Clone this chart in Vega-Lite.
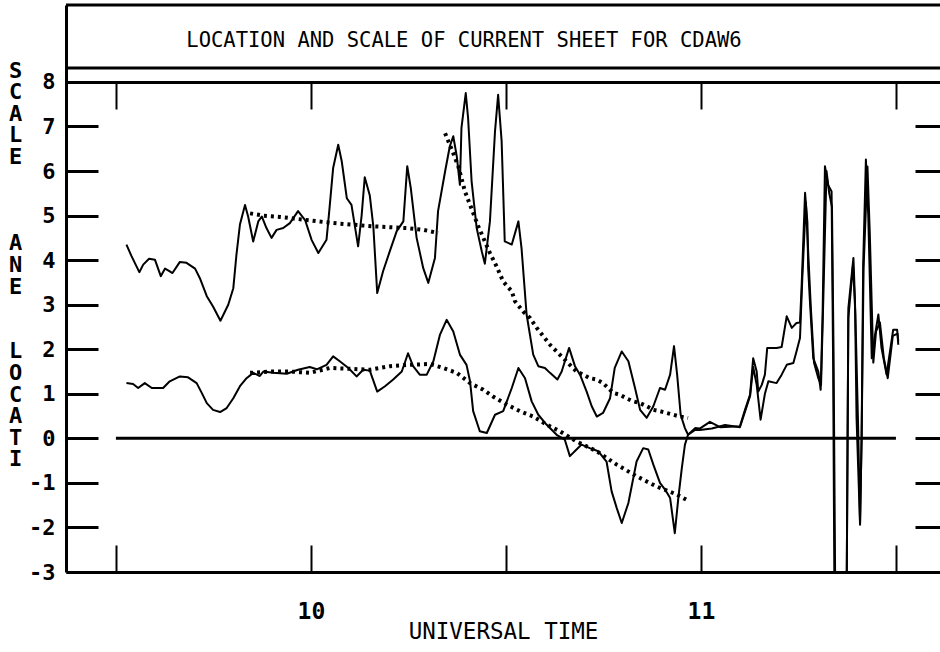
{
  "$schema": "https://vega.github.io/schema/vega-lite/v6.json",
  "width": 874,
  "height": 567,
  "autosize": {"type": "none"},
  "padding": {"left": 66, "top": 5, "right": 0, "bottom": 80},
  "background": "white",
  "config": {"view": {"stroke": null}, "font": "DejaVu Sans Mono"},
  "title": {
    "text": "LOCATION AND SCALE OF CURRENT SHEET FOR CDAW6",
    "orient": "top",
    "anchor": "middle",
    "frame": "group",
    "offset": -48,
    "dx": -39,
    "font": "DejaVu Sans Mono",
    "fontSize": 20.5,
    "fontWeight": "normal",
    "color": "black"
  },
  "datasets": {
    "traces": [
      {"s":"scale","t":9.527,"v":4.35},{"s":"scale","t":9.540,"v":4.09},{"s":"scale","t":9.560,"v":3.73},{"s":"scale","t":9.570,"v":3.90},
      {"s":"scale","t":9.585,"v":4.03},{"s":"scale","t":9.600,"v":4.01},{"s":"scale","t":9.615,"v":3.64},{"s":"scale","t":9.626,"v":3.81},
      {"s":"scale","t":9.636,"v":3.76},{"s":"scale","t":9.645,"v":3.71},{"s":"scale","t":9.664,"v":3.96},{"s":"scale","t":9.681,"v":3.94},
      {"s":"scale","t":9.703,"v":3.81},{"s":"scale","t":9.715,"v":3.60},{"s":"scale","t":9.733,"v":3.19},{"s":"scale","t":9.749,"v":2.96},
      {"s":"scale","t":9.768,"v":2.64},{"s":"scale","t":9.788,"v":3.00},{"s":"scale","t":9.801,"v":3.37},{"s":"scale","t":9.809,"v":4.12},
      {"s":"scale","t":9.818,"v":4.80},{"s":"scale","t":9.831,"v":5.24},{"s":"scale","t":9.839,"v":4.98},{"s":"scale","t":9.852,"v":4.42},
      {"s":"scale","t":9.865,"v":4.87},{"s":"scale","t":9.874,"v":4.98},{"s":"scale","t":9.886,"v":4.72},{"s":"scale","t":9.899,"v":4.50},
      {"s":"scale","t":9.912,"v":4.68},{"s":"scale","t":9.929,"v":4.72},{"s":"scale","t":9.946,"v":4.83},{"s":"scale","t":9.967,"v":5.10},
      {"s":"scale","t":9.985,"v":4.90},{"s":"scale","t":10.002,"v":4.45},{"s":"scale","t":10.019,"v":4.16},{"s":"scale","t":10.040,"v":4.46},
      {"s":"scale","t":10.047,"v":5.10},{"s":"scale","t":10.057,"v":6.07},{"s":"scale","t":10.070,"v":6.59},{"s":"scale","t":10.079,"v":6.22},
      {"s":"scale","t":10.092,"v":5.39},{"s":"scale","t":10.104,"v":5.24},{"s":"scale","t":10.121,"v":4.31},{"s":"scale","t":10.130,"v":5.00},
      {"s":"scale","t":10.138,"v":5.86},{"s":"scale","t":10.151,"v":5.45},{"s":"scale","t":10.160,"v":4.76},{"s":"scale","t":10.170,"v":3.26},
      {"s":"scale","t":10.185,"v":3.75},{"s":"scale","t":10.203,"v":4.22},{"s":"scale","t":10.220,"v":4.65},{"s":"scale","t":10.237,"v":4.87},
      {"s":"scale","t":10.247,"v":6.11},{"s":"scale","t":10.256,"v":5.62},{"s":"scale","t":10.271,"v":4.50},{"s":"scale","t":10.288,"v":3.82},
      {"s":"scale","t":10.301,"v":3.49},{"s":"scale","t":10.318,"v":4.05},{"s":"scale","t":10.326,"v":5.10},{"s":"scale","t":10.344,"v":5.99},
      {"s":"scale","t":10.356,"v":6.55},{"s":"scale","t":10.365,"v":6.78},{"s":"scale","t":10.374,"v":6.33},{"s":"scale","t":10.382,"v":5.69},
      {"s":"scale","t":10.386,"v":6.97},{"s":"scale","t":10.397,"v":7.75},{"s":"scale","t":10.403,"v":7.19},{"s":"scale","t":10.412,"v":5.77},
      {"s":"scale","t":10.425,"v":4.72},{"s":"scale","t":10.438,"v":4.20},{"s":"scale","t":10.446,"v":3.92},{"s":"scale","t":10.459,"v":4.87},
      {"s":"scale","t":10.472,"v":6.89},{"s":"scale","t":10.480,"v":7.71},{"s":"scale","t":10.489,"v":6.67},{"s":"scale","t":10.497,"v":4.42},
      {"s":"scale","t":10.515,"v":4.35},{"s":"scale","t":10.532,"v":4.87},{"s":"scale","t":10.540,"v":4.27},{"s":"scale","t":10.553,"v":2.78},
      {"s":"scale","t":10.570,"v":1.88},{"s":"scale","t":10.583,"v":1.62},{"s":"scale","t":10.600,"v":1.58},{"s":"scale","t":10.613,"v":1.47},
      {"s":"scale","t":10.632,"v":1.32},{"s":"scale","t":10.643,"v":1.50},{"s":"scale","t":10.662,"v":2.03},{"s":"scale","t":10.677,"v":1.62},
      {"s":"scale","t":10.690,"v":1.43},{"s":"scale","t":10.707,"v":1.05},{"s":"scale","t":10.720,"v":0.72},{"s":"scale","t":10.733,"v":0.49},
      {"s":"scale","t":10.749,"v":0.57},{"s":"scale","t":10.767,"v":0.90},{"s":"scale","t":10.779,"v":1.58},{"s":"scale","t":10.797,"v":1.95},
      {"s":"scale","t":10.814,"v":1.73},{"s":"scale","t":10.831,"v":1.13},{"s":"scale","t":10.844,"v":0.64},{"s":"scale","t":10.861,"v":0.46},
      {"s":"scale","t":10.878,"v":0.72},{"s":"scale","t":10.895,"v":1.13},{"s":"scale","t":10.908,"v":1.09},{"s":"scale","t":10.921,"v":1.43},
      {"s":"scale","t":10.931,"v":2.07},{"s":"scale","t":10.939,"v":1.43},{"s":"scale","t":10.948,"v":0.53},{"s":"scale","t":10.959,"v":0.23},
      {"s":"scale","t":10.967,"v":0.08},{"s":"scale","t":10.985,"v":0.23},{"s":"scale","t":10.997,"v":0.22},{"s":"scale","t":11.023,"v":0.37},
      {"s":"scale","t":11.049,"v":0.25},{"s":"scale","t":11.100,"v":0.27},{"s":"scale","t":11.113,"v":0.64},{"s":"scale","t":11.126,"v":0.98},
      {"s":"scale","t":11.134,"v":1.80},{"s":"scale","t":11.143,"v":1.50},{"s":"scale","t":11.147,"v":1.05},{"s":"scale","t":11.156,"v":1.20},
      {"s":"scale","t":11.164,"v":1.43},{"s":"scale","t":11.170,"v":2.03},{"s":"scale","t":11.194,"v":2.03},{"s":"scale","t":11.207,"v":2.05},
      {"s":"scale","t":11.220,"v":2.74},{"s":"scale","t":11.233,"v":2.48},{"s":"scale","t":11.245,"v":2.59},{"s":"scale","t":11.254,"v":2.60},
      {"s":"scale","t":11.258,"v":3.37},{"s":"scale","t":11.267,"v":5.51},{"s":"scale","t":11.273,"v":4.85},{"s":"scale","t":11.275,"v":3.82},
      {"s":"scale","t":11.279,"v":3.15},{"s":"scale","t":11.288,"v":1.80},{"s":"scale","t":11.301,"v":1.50},{"s":"scale","t":11.307,"v":1.09},
      {"s":"scale","t":11.312,"v":2.78},{"s":"scale","t":11.318,"v":6.11},{"s":"scale","t":11.326,"v":5.69},{"s":"scale","t":11.335,"v":5.54},
      {"s":"scale","t":11.339,"v":1.65},{"s":"scale","t":11.342,"v":-3.0},{"s":"scale","t":11.374,"v":-3.0},{"s":"scale","t":11.378,"v":2.92},
      {"s":"scale","t":11.391,"v":4.05},{"s":"scale","t":11.395,"v":3.10},{"s":"scale","t":11.399,"v":0.46},{"s":"scale","t":11.408,"v":-1.94},
      {"s":"scale","t":11.412,"v":0.00},{"s":"scale","t":11.416,"v":3.90},{"s":"scale","t":11.423,"v":6.26},{"s":"scale","t":11.429,"v":5.02},
      {"s":"scale","t":11.438,"v":1.80},{"s":"scale","t":11.446,"v":2.30},{"s":"scale","t":11.455,"v":2.78},{"s":"scale","t":11.463,"v":2.03},
      {"s":"scale","t":11.476,"v":1.43},{"s":"scale","t":11.493,"v":2.44},{"s":"scale","t":11.503,"v":2.44},{"s":"scale","t":11.506,"v":2.18},

      {"s":"location","t":9.527,"v":1.24},{"s":"location","t":9.544,"v":1.22},{"s":"location","t":9.557,"v":1.13},{"s":"location","t":9.574,"v":1.24},
      {"s":"location","t":9.592,"v":1.13},{"s":"location","t":9.621,"v":1.13},{"s":"location","t":9.638,"v":1.28},{"s":"location","t":9.664,"v":1.39},
      {"s":"location","t":9.685,"v":1.37},{"s":"location","t":9.707,"v":1.24},{"s":"location","t":9.720,"v":1.02},{"s":"location","t":9.733,"v":0.79},
      {"s":"location","t":9.749,"v":0.64},{"s":"location","t":9.767,"v":0.59},{"s":"location","t":9.784,"v":0.68},{"s":"location","t":9.801,"v":0.90},
      {"s":"location","t":9.818,"v":1.17},{"s":"location","t":9.835,"v":1.35},{"s":"location","t":9.852,"v":1.47},{"s":"location","t":9.869,"v":1.40},
      {"s":"location","t":9.878,"v":1.50},{"s":"location","t":9.903,"v":1.47},{"s":"location","t":9.938,"v":1.45},{"s":"location","t":9.967,"v":1.54},
      {"s":"location","t":9.997,"v":1.60},{"s":"location","t":10.015,"v":1.55},{"s":"location","t":10.040,"v":1.65},{"s":"location","t":10.057,"v":1.84},
      {"s":"location","t":10.074,"v":1.73},{"s":"location","t":10.096,"v":1.58},{"s":"location","t":10.117,"v":1.39},{"s":"location","t":10.134,"v":1.54},
      {"s":"location","t":10.151,"v":1.52},{"s":"location","t":10.170,"v":1.05},{"s":"location","t":10.190,"v":1.17},{"s":"location","t":10.211,"v":1.32},
      {"s":"location","t":10.233,"v":1.50},{"s":"location","t":10.249,"v":1.91},{"s":"location","t":10.262,"v":1.62},{"s":"location","t":10.279,"v":1.43},
      {"s":"location","t":10.297,"v":1.43},{"s":"location","t":10.314,"v":1.73},{"s":"location","t":10.331,"v":2.33},{"s":"location","t":10.348,"v":2.66},
      {"s":"location","t":10.365,"v":2.40},{"s":"location","t":10.382,"v":1.88},{"s":"location","t":10.399,"v":1.65},{"s":"location","t":10.408,"v":1.28},
      {"s":"location","t":10.416,"v":0.61},{"s":"location","t":10.433,"v":0.16},{"s":"location","t":10.451,"v":0.12},{"s":"location","t":10.472,"v":0.53},
      {"s":"location","t":10.493,"v":0.61},{"s":"location","t":10.515,"v":1.13},{"s":"location","t":10.532,"v":1.58},{"s":"location","t":10.549,"v":1.35},
      {"s":"location","t":10.566,"v":0.83},{"s":"location","t":10.583,"v":0.53},{"s":"location","t":10.604,"v":0.31},{"s":"location","t":10.630,"v":0.08},
      {"s":"location","t":10.651,"v":-0.03},{"s":"location","t":10.664,"v":-0.40},{"s":"location","t":10.681,"v":-0.25},{"s":"location","t":10.694,"v":-0.14},
      {"s":"location","t":10.715,"v":-0.22},{"s":"location","t":10.737,"v":-0.29},{"s":"location","t":10.758,"v":-0.52},{"s":"location","t":10.771,"v":-1.19},
      {"s":"location","t":10.784,"v":-1.56},{"s":"location","t":10.797,"v":-1.90},{"s":"location","t":10.814,"v":-1.45},{"s":"location","t":10.835,"v":-0.52},
      {"s":"location","t":10.852,"v":-0.22},{"s":"location","t":10.865,"v":-0.25},{"s":"location","t":10.878,"v":-0.59},{"s":"location","t":10.895,"v":-1.00},
      {"s":"location","t":10.908,"v":-1.15},{"s":"location","t":10.921,"v":-1.34},{"s":"location","t":10.933,"v":-2.13},{"s":"location","t":10.942,"v":-1.34},
      {"s":"location","t":10.951,"v":-0.67},{"s":"location","t":10.959,"v":-0.14},{"s":"location","t":10.967,"v":0.08},{"s":"location","t":10.985,"v":0.19},
      {"s":"location","t":10.997,"v":0.19},{"s":"location","t":11.028,"v":0.22},{"s":"location","t":11.062,"v":0.30},{"s":"location","t":11.100,"v":0.25},
      {"s":"location","t":11.113,"v":0.60},{"s":"location","t":11.126,"v":0.95},{"s":"location","t":11.134,"v":1.60},{"s":"location","t":11.143,"v":1.20},
      {"s":"location","t":11.153,"v":0.42},{"s":"location","t":11.164,"v":1.00},{"s":"location","t":11.173,"v":1.28},{"s":"location","t":11.194,"v":1.24},
      {"s":"location","t":11.207,"v":1.43},{"s":"location","t":11.220,"v":1.65},{"s":"location","t":11.237,"v":1.69},{"s":"location","t":11.245,"v":1.95},
      {"s":"location","t":11.254,"v":2.25},{"s":"location","t":11.260,"v":3.60},{"s":"location","t":11.269,"v":5.30},{"s":"location","t":11.276,"v":4.00},
      {"s":"location","t":11.282,"v":2.90},{"s":"location","t":11.290,"v":1.70},{"s":"location","t":11.301,"v":1.35},{"s":"location","t":11.308,"v":1.20},
      {"s":"location","t":11.314,"v":3.20},{"s":"location","t":11.322,"v":6.00},{"s":"location","t":11.329,"v":5.50},{"s":"location","t":11.336,"v":5.20},
      {"s":"location","t":11.340,"v":2.00},{"s":"location","t":11.344,"v":-3.0},{"s":"location","t":11.374,"v":-3.0},{"s":"location","t":11.378,"v":2.70},
      {"s":"location","t":11.390,"v":3.90},{"s":"location","t":11.396,"v":2.80},{"s":"location","t":11.403,"v":0.30},{"s":"location","t":11.408,"v":-1.90},
      {"s":"location","t":11.412,"v":0.00},{"s":"location","t":11.417,"v":3.80},{"s":"location","t":11.427,"v":6.10},{"s":"location","t":11.433,"v":4.60},
      {"s":"location","t":11.442,"v":1.70},{"s":"location","t":11.449,"v":2.40},{"s":"location","t":11.459,"v":2.60},{"s":"location","t":11.469,"v":1.80},
      {"s":"location","t":11.479,"v":1.35},{"s":"location","t":11.492,"v":2.30},{"s":"location","t":11.504,"v":2.35},{"s":"location","t":11.506,"v":2.10}
    ],
    "fits": [
      {"seg":"scale1","t":9.844,"v":5.05},{"seg":"scale1","t":9.877,"v":5.00},{"seg":"scale1","t":9.921,"v":4.97},{"seg":"scale1","t":9.979,"v":4.91},
      {"seg":"scale1","t":10.049,"v":4.84},{"seg":"scale1","t":10.100,"v":4.80},{"seg":"scale1","t":10.159,"v":4.76},{"seg":"scale1","t":10.245,"v":4.72},
      {"seg":"scale1","t":10.288,"v":4.68},{"seg":"scale1","t":10.326,"v":4.61},
      {"seg":"scale2","t":10.344,"v":6.85},{"seg":"scale2","t":10.365,"v":6.40},{"seg":"scale2","t":10.378,"v":6.10},{"seg":"scale2","t":10.395,"v":5.54},
      {"seg":"scale2","t":10.412,"v":5.15},{"seg":"scale2","t":10.429,"v":4.76},{"seg":"scale2","t":10.446,"v":4.42},{"seg":"scale2","t":10.459,"v":4.16},
      {"seg":"scale2","t":10.476,"v":3.86},{"seg":"scale2","t":10.493,"v":3.52},{"seg":"scale2","t":10.515,"v":3.30},{"seg":"scale2","t":10.523,"v":3.08},
      {"seg":"scale2","t":10.544,"v":2.85},{"seg":"scale2","t":10.562,"v":2.70},{"seg":"scale2","t":10.579,"v":2.48},{"seg":"scale2","t":10.596,"v":2.29},
      {"seg":"scale2","t":10.613,"v":2.10},{"seg":"scale2","t":10.630,"v":1.95},{"seg":"scale2","t":10.647,"v":1.80},{"seg":"scale2","t":10.664,"v":1.65},
      {"seg":"scale2","t":10.681,"v":1.50},{"seg":"scale2","t":10.698,"v":1.43},{"seg":"scale2","t":10.715,"v":1.35},{"seg":"scale2","t":10.733,"v":1.32},
      {"seg":"scale2","t":10.749,"v":1.24},{"seg":"scale2","t":10.775,"v":1.02},{"seg":"scale2","t":10.792,"v":0.98},{"seg":"scale2","t":10.809,"v":0.90},
      {"seg":"scale2","t":10.826,"v":0.83},{"seg":"scale2","t":10.844,"v":0.79},{"seg":"scale2","t":10.861,"v":0.72},{"seg":"scale2","t":10.878,"v":0.64},
      {"seg":"scale2","t":10.895,"v":0.61},{"seg":"scale2","t":10.912,"v":0.57},{"seg":"scale2","t":10.929,"v":0.53},{"seg":"scale2","t":10.946,"v":0.49},
      {"seg":"scale2","t":10.967,"v":0.46},
      {"seg":"loc","t":9.844,"v":1.47},{"seg":"loc","t":9.895,"v":1.50},{"seg":"loc","t":9.946,"v":1.50},{"seg":"loc","t":9.997,"v":1.47},
      {"seg":"loc","t":10.049,"v":1.58},{"seg":"loc","t":10.100,"v":1.56},{"seg":"loc","t":10.151,"v":1.54},{"seg":"loc","t":10.203,"v":1.62},
      {"seg":"loc","t":10.254,"v":1.65},{"seg":"loc","t":10.305,"v":1.67},{"seg":"loc","t":10.339,"v":1.58},{"seg":"loc","t":10.374,"v":1.47},
      {"seg":"loc","t":10.408,"v":1.24},{"seg":"loc","t":10.442,"v":1.09},{"seg":"loc","t":10.467,"v":0.94},{"seg":"loc","t":10.502,"v":0.76},
      {"seg":"loc","t":10.536,"v":0.61},{"seg":"loc","t":10.570,"v":0.49},{"seg":"loc","t":10.604,"v":0.31},{"seg":"loc","t":10.638,"v":0.16},
      {"seg":"loc","t":10.681,"v":-0.07},{"seg":"loc","t":10.733,"v":-0.29},{"seg":"loc","t":10.784,"v":-0.59},{"seg":"loc","t":10.835,"v":-0.85},
      {"seg":"loc","t":10.886,"v":-1.08},{"seg":"loc","t":10.938,"v":-1.26},{"seg":"loc","t":10.963,"v":-1.38}
    ]
  },
  "layer": [
    {
      "data": {"name": "traces"},
      "mark": {"type": "line", "stroke": "black", "strokeWidth": 2, "strokeJoin": "round"},
      "encoding": {
        "x": {
          "field": "t", "type": "quantitative",
          "scale": {"domain": [9.372, 11.613], "nice": false, "zero": false},
          "axis": {
            "orient": "bottom",
            "values": [9.5, 10, 10.5, 11, 11.5],
            "labelExpr": "datum.value == 10 || datum.value == 11 ? toString(datum.value) : ''",
            "grid": false,
            "tickSize": -27, "tickWidth": 2, "tickColor": "black",
            "domainColor": "black", "domainWidth": 3,
            "labelPadding": 66, "labelBaseline": "middle",
            "labelFont": "DejaVu Sans Mono", "labelFontSize": 23, "labelFontWeight": "bold", "labelColor": "black",
            "labelFlush": false, "labelOverlap": false,
            "title": "UNIVERSAL TIME",
            "titleFont": "DejaVu Sans Mono", "titleFontSize": 22.5, "titleFontWeight": "normal", "titleColor": "black",
            "titleX": 437, "titleY": 66, "titleAlign": "center", "titleBaseline": "alphabetic"
          }
        },
        "y": {
          "field": "v", "type": "quantitative",
          "scale": {"domain": [-3, 9.727], "nice": false, "zero": false},
          "axis": {
            "orient": "left",
            "values": [-3, -2, -1, 0, 1, 2, 3, 4, 5, 6, 7, 8],
            "labelExpr": "toString(datum.value)",
            "grid": false,
            "tickSize": -32, "tickWidth": 3, "tickColor": "black",
            "domainColor": "black", "domainWidth": 3,
            "labelPadding": 43, "labelAlign": "right", "labelBaseline": "middle",
            "labelFont": "DejaVu Sans Mono", "labelFontSize": 22, "labelFontWeight": "bold", "labelColor": "black",
            "labelFlush": false, "labelOverlap": false,
            "title": ["S", "C", "A", "L", "E", "\u2800", "\u2800", "\u2800", "A", "N", "E", "\u2800", "\u2800", "L", "O", "C", "A", "T", "I"],
            "titleAngle": 0, "titleX": -51, "titleY": 72, "titleAlign": "center", "titleBaseline": "alphabetic",
            "titleFont": "DejaVu Sans Mono", "titleFontSize": 22, "titleFontWeight": "bold", "titleColor": "black",
            "titleLineHeight": 21.6
          }
        },
        "detail": {"field": "s"}
      }
    },
    {
      "data": {"name": "fits"},
      "mark": {"type": "line", "stroke": "black", "strokeWidth": 4, "strokeDash": [3, 4], "strokeCap": "butt"},
      "encoding": {
        "x": {"field": "t", "type": "quantitative", "axis": null},
        "y": {"field": "v", "type": "quantitative", "axis": null},
        "detail": {"field": "seg"}
      }
    },
    {
      "data": {"values": [{"t0": 9.5, "t1": 11.5, "v": 0}]},
      "mark": {"type": "rule", "stroke": "black", "strokeWidth": 3},
      "encoding": {
        "x": {
          "field": "t0", "type": "quantitative",
          "axis": {
            "orient": "top", "offset": -77,
            "values": [9.5, 10, 10.5, 11, 11.5],
            "labels": false, "grid": false, "title": null,
            "tickSize": -27, "tickWidth": 2, "tickColor": "black",
            "domain": true, "domainColor": "black", "domainWidth": 3
          }
        },
        "x2": {"field": "t1"},
        "y": {
          "field": "v", "type": "quantitative",
          "axis": {
            "orient": "right",
            "values": [-2, -1, 0, 1, 2, 3, 4, 5, 6, 7],
            "labels": false, "grid": false, "title": null, "domain": false,
            "tickSize": -25, "tickWidth": 3, "tickColor": "black"
          }
        }
      }
    },
    {
      "data": {"values": [{}]},
      "mark": {"type": "rule", "stroke": "black", "strokeWidth": 3},
      "encoding": {"y": {"datum": 8.314, "type": "quantitative", "axis": null}}
    },
    {
      "data": {"values": [{}]},
      "mark": {"type": "rule", "stroke": "black", "strokeWidth": 3},
      "encoding": {"y": {"datum": 9.727, "type": "quantitative", "axis": null}}
    }
  ],
  "resolve": {"axis": {"x": "independent", "y": "independent"}}
}
